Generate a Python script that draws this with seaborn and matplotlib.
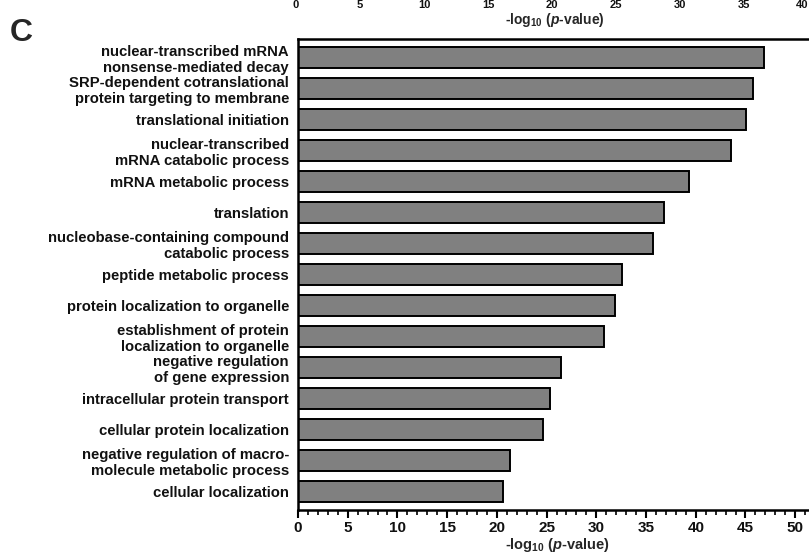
import matplotlib
matplotlib.use("Agg")
import matplotlib.pyplot as plt
from matplotlib.ticker import MultipleLocator
import seaborn as sns
import pandas as pd

terms = [
    "nuclear-transcribed mRNA\nnonsense-mediated decay",
    "SRP-dependent cotranslational\nprotein targeting to membrane",
    "translational initiation",
    "nuclear-transcribed\nmRNA catabolic process",
    "mRNA metabolic process",
    "translation",
    "nucleobase-containing compound\ncatabolic process",
    "peptide metabolic process",
    "protein localization to organelle",
    "establishment of protein\nlocalization to organelle",
    "negative regulation\nof gene expression",
    "intracellular protein transport",
    "cellular protein localization",
    "negative regulation of macro-\nmolecule metabolic process",
    "cellular localization",
]
neglog_p = [46.9, 45.8, 45.1, 43.5, 39.3, 36.8, 35.7, 32.6, 31.9, 30.8,
            26.4, 25.3, 24.6, 21.3, 20.6]
x_ticks = [0, 5, 10, 15, 20, 25, 30, 35, 40, 45, 50]
upper_ticks = [0, 5, 10, 15, 20, 25, 30, 35, 40]

sns.set_theme(style="white")
plt.rcParams["font.family"] = ["Liberation Sans", "DejaVu Sans"]
plt.rcParams["font.weight"] = "bold"
plt.rcParams["mathtext.fontset"] = "custom"
plt.rcParams["mathtext.rm"] = "Liberation Sans:bold"
plt.rcParams["mathtext.it"] = "Liberation Sans:bold:italic"
plt.rcParams["mathtext.bf"] = "Liberation Sans:bold"

df = pd.DataFrame({"term": terms, "value": neglog_p})

W, H = 809, 556
fig = plt.figure(figsize=(W / 100, H / 100), dpi=100)
ax = fig.add_axes([298 / W, 1 - 510 / H, 1 - 298 / W + 0.01, (510 - 39) / H])

sns.barplot(data=df, x="value", y="term", orient="h", color="#808080",
            saturation=1, edgecolor="black", linewidth=1.4, width=0.68, ax=ax)

ax.set_xlim(0, 52.2)
ax.set_ylim(14.6, -0.6)
ax.set_xticks(x_ticks)
ax.xaxis.set_minor_locator(MultipleLocator(1))
ax.set_ylabel("")
ax.set_xlabel(r"-log$_{\mathregular{10}}$ ($\mathit{p}$-value)", fontsize=10.5,
              fontweight="bold", labelpad=1)
ax.tick_params(axis="x", which="major", bottom=True, length=6, width=1.5,
               labelsize=11, pad=2, color="black", direction="out")
ax.tick_params(axis="x", which="minor", bottom=True, length=3.5, width=1.2,
               color="black", direction="out")
ax.tick_params(axis="y", left=False, labelsize=10.7, pad=0.5)
for lbl in ax.get_xticklabels() + ax.get_yticklabels():
    lbl.set_fontweight("bold")
    lbl.set_color("#111111")

for s in ["left", "bottom", "top"]:
    ax.spines[s].set_visible(True)
    ax.spines[s].set_color("black")
    ax.spines[s].set_linewidth(1.8)
ax.spines["right"].set_visible(False)

# Panel letter
fig.text(21 / W, 1 - 33 / H, "C", fontsize=23, fontweight="bold", ha="center", va="center")

# Remnants of the panel above
for t in upper_ticks:
    xpix = 296 + 12.8 * t
    ha = "center"
    if xpix > W - 8:
        xpix, ha = W - 1, "right"
    fig.text(xpix / W, 1 - 0.5 / H, str(t), fontsize=8, fontweight="bold",
             ha=ha, va="top", color="#111111")
fig.text(555 / W, 1 - 20 / H, r"-log$_{\mathregular{10}}$ ($\mathit{p}$-value)",
         fontsize=10, fontweight="bold", ha="center", va="center")

fig.savefig("out.png", dpi=100)
